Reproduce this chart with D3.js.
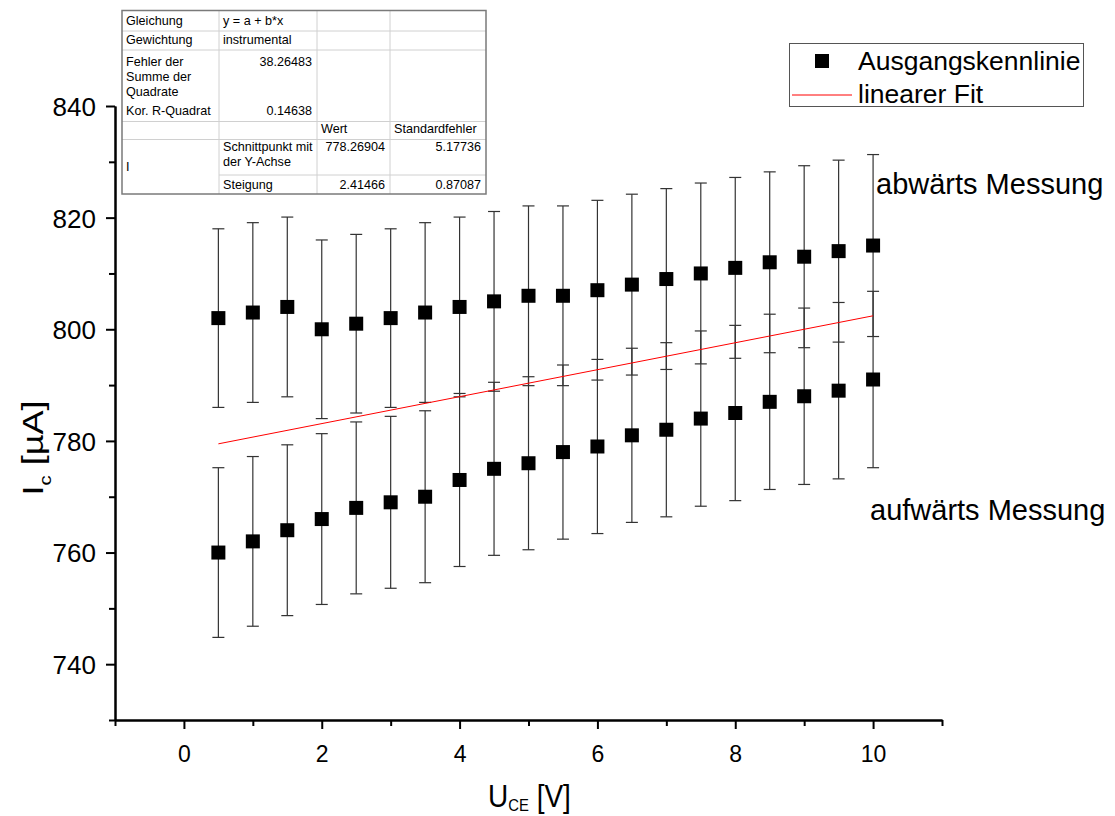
<!DOCTYPE html>
<html>
<head>
<meta charset="utf-8">
<script src="https://cdn.jsdelivr.net/npm/d3@7"></script>
<style>
  html, body { margin: 0; padding: 0; background: #fff; }
  svg { display: block; font-family: Arial, "Liberation Sans", sans-serif; }
</style>
</head>
<body>
<svg id="chart" width="1115" height="816"></svg>
<script>
// Collector-emitter voltage U_CE [V]
const voltages = [0.5, 1, 1.5, 2, 2.5, 3, 3.5, 4, 4.5, 5, 5.5, 6, 6.5, 7, 7.5, 8, 8.5, 9, 9.5, 10];

// Collector current I_c [µA], sweep downwards
const downCurrent = [802, 803, 804, 800, 801, 802, 803, 804, 805, 806, 806, 807, 808, 809, 810, 811, 812, 813, 814, 815];
const downError   = [16.0, 16.1, 16.1, 16.0, 16.0, 16.0, 16.1, 16.1, 16.1, 16.1, 16.1, 16.1, 16.2, 16.2, 16.2, 16.2, 16.2, 16.3, 16.3, 16.3];

// Collector current I_c [µA], sweep upwards
const upCurrent = [760, 762, 764, 766, 768, 769, 770, 773, 775, 776, 778, 779, 781, 782, 784, 785, 787, 788, 789, 791];
const upError   = [15.2, 15.2, 15.3, 15.3, 15.4, 15.4, 15.4, 15.5, 15.5, 15.5, 15.6, 15.6, 15.6, 15.6, 15.7, 15.7, 15.7, 15.8, 15.8, 15.8];

// Linear fit y = a + b*x
const fitIntercept = 778.26904;
const fitSlope = 2.41466;
const fitRange = [0.5, 10];

// Axis ticks
const xMajorTicks = [0, 2, 4, 6, 8, 10];
const xMinorTicks = [-1, 1, 3, 5, 7, 9, 11];
const yMajorTicks = [740, 760, 780, 800, 820, 840];
const yMinorTicks = [730, 750, 770, 790, 810, 830];

// Fit report table rows
const tableRows = [
  ["Gleichung", "y = a + b*x", "", ""],
  ["Gewichtung", "instrumental", "", ""],
  ["Fehler der\nSumme der\nQuadrate", "38.26483", "", ""],
  ["Kor. R-Quadrat", "0.14638", "", ""],
  ["", "", "Wert", "Standardfehler"],
  ["I", "Schnittpunkt mit\nder Y-Achse", "778.26904", "5.17736"],
  ["", "Steigung", "2.41466", "0.87087"]
];

const legendLabels = ["Ausgangskennlinie", "linearer Fit"];
const annotationLabels = ["abwärts Messung", "aufwärts Messung"];

const svg = d3.select("#chart");

const x = d3.scaleLinear().domain([-1, 11]).range([115, 942]);
const y = d3.scaleLinear().domain([730, 840]).range([720, 106]);

// ---- axes ----
function styleAxis(g) {
  g.select(".domain").attr("stroke", "#000").attr("stroke-width", 2);
  g.selectAll(".tick line").attr("stroke", "#000").attr("stroke-width", 2);
}

const xAxisMinor = svg.append("g")
  .attr("transform", `translate(0,${y(730)})`)
  .call(d3.axisBottom(x).tickValues(xMinorTicks).tickSize(6).tickSizeOuter(0).tickFormat(""));
styleAxis(xAxisMinor);

const xAxis = svg.append("g")
  .attr("transform", `translate(0,${y(730)})`)
  .call(d3.axisBottom(x).tickValues(xMajorTicks).tickSize(9).tickSizeOuter(0).tickFormat(d3.format("d")));
styleAxis(xAxis);
xAxis.selectAll(".tick text")
  .attr("font-size", 23).attr("fill", "#000").attr("dy", 0).attr("y", 42)
  .attr("font-family", "Arial, 'Liberation Sans', sans-serif");

const yAxisMinor = svg.append("g")
  .attr("transform", `translate(${x(-1)},0)`)
  .call(d3.axisLeft(y).tickValues(yMinorTicks).tickSize(6).tickSizeOuter(0).tickFormat(""));
styleAxis(yAxisMinor);

const yAxis = svg.append("g")
  .attr("transform", `translate(${x(-1)},0)`)
  .call(d3.axisLeft(y).tickValues(yMajorTicks).tickSize(9).tickSizeOuter(0).tickFormat(d3.format("d")));
styleAxis(yAxis);
yAxis.selectAll(".tick text")
  .attr("font-size", 26).attr("fill", "#000").attr("x", -19).attr("dy", "0.36em")
  .attr("font-family", "Arial, 'Liberation Sans', sans-serif");

// ---- axis titles ----
const xTitle = svg.append("text")
  .attr("transform", "translate(488,807) scale(0.875,1)")
  .attr("font-size", 32).attr("fill", "#000");
xTitle.append("tspan").text("U");
xTitle.append("tspan").attr("font-size", 17).attr("dy", 4).text("CE");
xTitle.append("tspan").attr("dy", -4).text(" [V]");

const yTitle = svg.append("text")
  .attr("transform", "translate(43,448) rotate(-90) scale(1.2,1)")
  .attr("text-anchor", "middle")
  .attr("font-size", 30).attr("fill", "#000");
yTitle.append("tspan").text("I");
yTitle.append("tspan").attr("font-size", 17).attr("dy", 8).text("c");
yTitle.append("tspan").attr("dy", -8).text(" [µA]");

// ---- error bars and markers ----
const series = [
  { current: downCurrent, error: downError },
  { current: upCurrent, error: upError }
];

const capHalf = 6;
series.forEach(s => {
  const pts = voltages.map((v, i) => ({ v, c: s.current[i], e: s.error[i] }));
  const g = svg.append("g").attr("stroke", "#333").attr("stroke-width", 1.2);
  g.selectAll("line.bar").data(pts).join("line")
    .attr("x1", d => x(d.v)).attr("x2", d => x(d.v))
    .attr("y1", d => y(d.c - d.e)).attr("y2", d => y(d.c + d.e));
  g.selectAll("line.capTop").data(pts).join("line")
    .attr("x1", d => x(d.v) - capHalf).attr("x2", d => x(d.v) + capHalf)
    .attr("y1", d => y(d.c + d.e)).attr("y2", d => y(d.c + d.e));
  g.selectAll("line.capBottom").data(pts).join("line")
    .attr("x1", d => x(d.v) - capHalf).attr("x2", d => x(d.v) + capHalf)
    .attr("y1", d => y(d.c - d.e)).attr("y2", d => y(d.c - d.e));
});

// linear fit line
svg.append("line")
  .attr("x1", x(fitRange[0])).attr("y1", y(fitIntercept + fitSlope * fitRange[0]))
  .attr("x2", x(fitRange[1])).attr("y2", y(fitIntercept + fitSlope * fitRange[1]))
  .attr("stroke", "#ff0000").attr("stroke-width", 1);

const markerSize = 14;
series.forEach(s => {
  svg.append("g").selectAll("rect").data(voltages.map((v, i) => ({ v, c: s.current[i] }))).join("rect")
    .attr("x", d => x(d.v) - markerSize / 2)
    .attr("y", d => y(d.c) - markerSize / 2)
    .attr("width", markerSize).attr("height", markerSize)
    .attr("fill", "#000");
});

// ---- fit report table ----
const table = svg.append("g").attr("font-size", 12.6).attr("fill", "#000");
const colX = [122, 219, 317, 390, 486];
const rowY = [10.5, 31, 50, 121.5, 139.5, 175, 194];
table.append("rect")
  .attr("x", colX[0]).attr("y", rowY[0])
  .attr("width", colX[4] - colX[0]).attr("height", rowY[6] - rowY[0])
  .attr("fill", "#fff").attr("stroke", "none");

const grid = table.append("g").attr("stroke", "#d0d0d0").attr("stroke-width", 1);
[219, 317, 390].forEach(cx => grid.append("line").attr("x1", cx).attr("x2", cx).attr("y1", rowY[0]).attr("y2", rowY[6]));
[31, 50, 121.5, 139.5].forEach(ry => grid.append("line").attr("x1", colX[0]).attr("x2", colX[4]).attr("y1", ry).attr("y2", ry));
grid.append("line").attr("x1", colX[1]).attr("x2", colX[4]).attr("y1", rowY[5]).attr("y2", rowY[5]);
table.append("rect")
  .attr("x", colX[0]).attr("y", rowY[0])
  .attr("width", colX[4] - colX[0]).attr("height", rowY[6] - rowY[0])
  .attr("fill", "none").attr("stroke", "#7a7a7a").attr("stroke-width", 1.5);

// first baseline of each row
const rowBaseline = [25, 44, 66, 115, 133, 151, 189];
const lineGap = 15;
tableRows.forEach((row, ri) => {
  row.forEach((cell, ci) => {
    if (!cell) return;
    const lines = cell.split("\n");
    const rightAlign = (ri === 2 || ri === 3) && ci === 1 || (ri >= 5 && ci >= 2);
    let base = rowBaseline[ri];
    if (ri === 5 && ci === 0) base = 171;
    const tx = rightAlign ? colX[ci + 1] - 5 : colX[ci] + 4;
    const t = table.append("text")
      .attr("x", tx)
      .attr("y", base)
      .attr("text-anchor", rightAlign ? "end" : "start");
    lines.forEach((ln, li) => {
      t.append("tspan")
        .attr("x", tx)
        .attr("dy", li === 0 ? 0 : lineGap)
        .text(ln);
    });
  });
});

// ---- legend ----
const legend = svg.append("g");
legend.append("rect")
  .attr("x", 789.5).attr("y", 43.5).attr("width", 294).attr("height", 63)
  .attr("fill", "#fff").attr("stroke", "#555").attr("stroke-width", 1);
legend.append("rect")
  .attr("x", 822 - markerSize / 2).attr("y", 61 - markerSize / 2)
  .attr("width", markerSize).attr("height", markerSize).attr("fill", "#000");
legend.append("line")
  .attr("x1", 792).attr("x2", 852).attr("y1", 95).attr("y2", 95)
  .attr("stroke", "#ff0000").attr("stroke-width", 1);
legend.selectAll("text.lbl").data(legendLabels).join("text")
  .attr("x", 858).attr("y", (d, i) => [70, 103][i])
  .attr("font-size", 26.5).attr("fill", "#000")
  .text(d => d);

// ---- annotations ----
svg.selectAll("text.note").data(annotationLabels).join("text")
  .attr("x", (d, i) => [876, 870][i])
  .attr("y", (d, i) => [194, 520][i])
  .attr("font-size", 29).attr("fill", "#000")
  .text(d => d);
</script>
</body>
</html>
